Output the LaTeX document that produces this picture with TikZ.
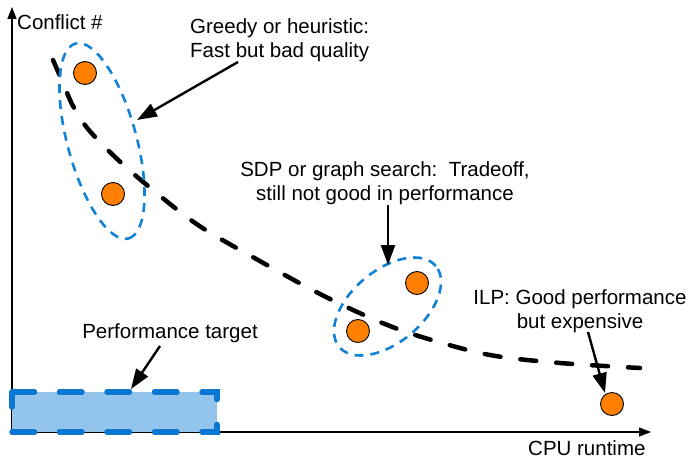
\documentclass[tikz,border=0pt]{standalone}
\usepackage{fontspec}
\setmainfont{Liberation Sans}
\usetikzlibrary{arrows.meta,shapes.geometric}

\definecolor{dotorange}{HTML}{FF8000}
\definecolor{grpblue}{HTML}{1282D6}
\definecolor{tgtblue}{HTML}{0A78D2}
\definecolor{tgtfill}{HTML}{93C5EC}

\tikzset{
  lbl/.style={inner sep=0pt, font=\fontsize{20.5}{24}\selectfont},
  axis/.style={line width=1.4pt, -{Triangle[length=12pt,width=9pt]}},
  pointer/.style={line width=2.4pt, -{Triangle[length=20pt,width=14pt]}},
  dot/.style={circle, draw=black, line width=0.9pt, fill=dotorange,
              minimum size=23pt, inner sep=0pt},
  group/.style={ellipse, draw=grpblue, line width=2.6pt,
                dash pattern=on 9pt off 7pt, inner sep=0pt},
  frontier/.style={line width=4.5pt, line cap=round,
                   dash pattern=on 16pt off 20pt},
  target/.style={draw=tgtblue, fill=tgtfill, line width=5.5pt,
                 line cap=round, dash pattern=on 22.5pt off 25pt}
}

\begin{document}
\begin{tikzpicture}[x=1pt,y=-1pt]
\useasboundingbox (0,0) rectangle (690,460);

% axes
\coordinate (origin) at (12,432);
\coordinate (ytop) at (12,7);
\coordinate (xend) at (651,432);
\draw[axis] (origin) -- (ytop);
\draw[axis] (origin) -- (xend);
\node[lbl, anchor=base west] (ylab) at (17,30) {Conflict \#};
\node[lbl, anchor=base west] (xlab) at (528,455) {CPU runtime};

% performance target box (starts at the top-left corner so dashes wrap the corners)
\draw[target] (12,392) -- (217,392) -- (217,432) -- (12,432) -- cycle;

% trade-off frontier
\draw[frontier] plot[smooth, tension=0.55] coordinates {
  (53,60) (63,83) (73,106) (88,129) (115,157) (148,186) (198,225)
  (258,260) (322,295) (380,322) (425,338) (490,355) (560,363) (640,368)};

% groups of methods
\node[group, minimum width=202pt, minimum height=69pt, rotate=-74.8]
  (greedy) at (102,141) {};
\node[group, minimum width=126pt, minimum height=72pt, rotate=40]
  (sdp) at (387.5,306.5) {};

% solutions
\node[dot] (g1) at (85,73) {};
\node[dot] (g2) at (113,194) {};
\node[dot] (s1) at (417,283) {};
\node[dot] (s2) at (358,331) {};
\node[dot] (ilp) at (612,404) {};

% annotations (base anchor = baseline of the last line)
\node[lbl, anchor=base west, align=left] (greedytxt) at (190,57)
  {Greedy or heuristic:\\Fast but bad quality};
\node[lbl, anchor=base, align=center] (sdptxt) at (385,200)
  {SDP or graph search:\ \ Tradeoff,\\still not good in performance};
\node[lbl, anchor=base, align=center] (ilptxt) at (580,328)
  {ILP: Good performance\\but expensive};
\node[lbl, anchor=base] (tgttxt) at (170,338) {Performance target};

\coordinate (greedytail) at (238,62);
\coordinate (greedytip) at (137,120);
\coordinate (sdptail) at (388,205);
\coordinate (sdptip) at (388,265);
\coordinate (tgttail) at (160,346);
\coordinate (tgttip) at (131,389);
\coordinate (ilptail) at (588,332);
\coordinate (ilptip) at (605,393);

\draw[pointer] (greedytail) -- (greedytip);
\draw[pointer] (sdptail) -- (sdptip);
\draw[pointer] (tgttail) -- (tgttip);
\draw[pointer] (ilptail) -- (ilptip);
\end{tikzpicture}
\end{document}
